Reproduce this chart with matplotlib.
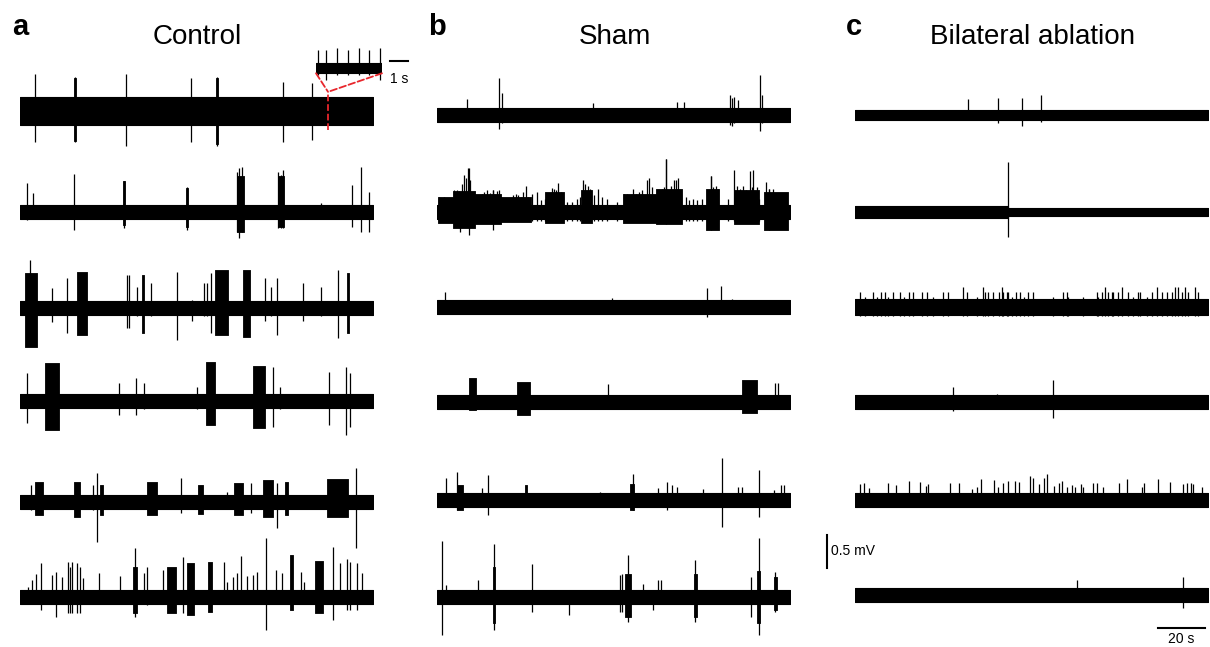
import numpy as np
import matplotlib.pyplot as plt
from matplotlib.patches import ConnectionPatch

plt.rcParams['font.family'] = ['Liberation Sans', 'DejaVu Sans']

W, H = 1210, 647
DURATION = 150.0   # s shown per trace
PX_PER_MV = 66.0

# ---- panel a: Control ----
# baseline noise: list of (start s, half width mV)
ctrl_noise = [[(0, 0.21)], [(0, 0.10)], [(0, 0.11)], [(0, 0.11)], [(0, 0.10)], [(0, 0.10)]]
# spikes: (time s, up mV, down mV); bursts: (t0, t1, up, down)
ctrl1_spikes = [(6.4, 0.56, 0.47), (23.4, 0.52, 0.47), (45.0, 0.56, 0.53), (72.7, 0.50, 0.47),
                (83.7, 0.52, 0.53), (111.8, 0.44, 0.47), (124.1, 0.42, 0.44)]
ctrl1_bursts = [(23.0, 23.8, 0.50, 0.45), (83.3, 84.1, 0.50, 0.50)]
ctrl2_spikes = [(3.0, 0.44, 0.12), (5.5, 0.29, 0.10), (23.0, 0.58, 0.27), (44.2, 0.47, 0.24),
                (71.0, 0.38, 0.27), (92.2, 0.60, 0.30), (93.2, 0.67, 0.39), (94.5, 0.68, 0.30),
                (109.7, 0.60, 0.24), (110.8, 0.56, 0.24), (111.8, 0.63, 0.24), (128.0, 0.14, 0.10),
                (141.1, 0.41, 0.23), (145.0, 0.68, 0.30), (148.3, 0.30, 0.30)]
ctrl2_bursts = [(43.9, 44.6, 0.47, 0.20), (70.6, 71.4, 0.36, 0.22), (92.0, 95.0, 0.55, 0.30),
                (109.5, 112.0, 0.55, 0.22)]
ctrl3_spikes = [(4.25, 0.73, 0.40), (13.6, 0.30, 0.21), (20.0, 0.45, 0.38), (45.5, 0.50, 0.30),
                (46.3, 0.50, 0.30), (49.7, 0.32, 0.12), (55.7, 0.38, 0.12), (66.7, 0.55, 0.48),
                (73.1, 0.12, 0.20), (78.2, 0.38, 0.12), (79.5, 0.38, 0.12), (81.2, 0.53, 0.38),
                (104.1, 0.45, 0.20), (106.7, 0.32, 0.12), (109.2, 0.45, 0.41), (120.3, 0.38, 0.20),
                (127.9, 0.32, 0.12), (135.1, 0.58, 0.45)]
ctrl3_bursts = [(2.1, 7.2, 0.53, 0.59), (24.2, 28.5, 0.55, 0.41), (51.9, 52.7, 0.50, 0.38),
                (82.9, 88.4, 0.58, 0.41), (94.8, 97.8, 0.58, 0.44), (139.0, 139.8, 0.53, 0.38)]
ctrl4_spikes = [(3.0, 0.42, 0.33), (42.1, 0.27, 0.21), (49.3, 0.35, 0.21), (52.7, 0.27, 0.12),
                (75.2, 0.21, 0.12), (107.5, 0.52, 0.39), (110.5, 0.21, 0.12), (131.3, 0.44, 0.36),
                (138.5, 0.52, 0.52), (140.2, 0.42, 0.39)]
ctrl4_bursts = [(10.6, 16.6, 0.58, 0.44), (79.0, 82.9, 0.59, 0.36), (99.0, 104.1, 0.53, 0.41)]
ctrl5_spikes = [(4.7, 0.26, 0.12), (31.0, 0.26, 0.12), (32.7, 0.44, 0.61), (68.4, 0.36, 0.17),
                (88.0, 0.15, 0.10), (98.2, 0.29, 0.17), (109.2, 0.29, 0.39), (142.8, 0.52, 0.70)]
ctrl5_bursts = [(6.4, 9.8, 0.30, 0.20), (23.0, 25.5, 0.30, 0.23), (34.0, 35.3, 0.26, 0.20),
                (54.0, 58.2, 0.30, 0.20), (75.6, 77.8, 0.26, 0.18), (91.0, 94.8, 0.29, 0.20),
                (103.3, 107.5, 0.33, 0.23), (112.6, 113.9, 0.30, 0.20), (130.5, 139.4, 0.35, 0.23)]
ctrl6_spikes = [(3.4, 0.15, 0.10), (5.1, 0.26, 0.10), (6.8, 0.35, 0.10), (8.9, 0.52, 0.20),
                (13.6, 0.33, 0.10), (15.3, 0.38, 0.30), (17.8, 0.30, 0.10), (20.4, 0.53, 0.24),
                (21.2, 0.45, 0.24), (22.1, 0.53, 0.24), (24.2, 0.52, 0.24), (25.5, 0.45, 0.24),
                (26.8, 0.29, 0.10), (33.6, 0.36, 0.10), (42.5, 0.32, 0.10), (48.9, 0.74, 0.30),
                (52.7, 0.36, 0.10), (54.0, 0.45, 0.12), (60.8, 0.41, 0.10), (69.3, 0.61, 0.24),
                (86.7, 0.53, 0.10), (88.0, 0.23, 0.10), (90.5, 0.30, 0.10), (92.2, 0.36, 0.10),
                (93.9, 0.62, 0.10), (96.5, 0.32, 0.10), (99.0, 0.33, 0.10), (100.7, 0.38, 0.10),
                (104.5, 0.89, 0.50), (108.8, 0.41, 0.10), (111.3, 0.36, 0.10), (119.4, 0.38, 0.10),
                (120.7, 0.23, 0.10), (133.0, 0.76, 0.35), (136.0, 0.52, 0.10), (139.0, 0.58, 0.20),
                (140.2, 0.53, 0.20), (143.2, 0.52, 0.20), (145.3, 0.36, 0.10)]
ctrl6_bursts = [(48.0, 49.7, 0.45, 0.24), (62.5, 66.3, 0.45, 0.24), (71.0, 74.0, 0.52, 0.27),
                (79.9, 81.6, 0.53, 0.23), (114.7, 116.0, 0.64, 0.20), (125.3, 128.8, 0.55, 0.24)]

# inset of control trace 1 (time s, up, down)
inset_spikes = [(0.11, 0.28, 0.10), (0.56, 0.27, 0.18), (1.17, 0.30, 0.10), (1.78, 0.27, 0.10),
                (2.39, 0.30, 0.10), (2.94, 0.27, 0.10), (3.56, 0.30, 0.18)]
inset_noise = 0.08
inset_len = 3.67
zoom_time = 130.9

# ---- panel b: Sham ----
sham_noise = [[(0, 0.11)], [(0, 0.11)], [(0, 0.11)], [(0, 0.10)], [(0, 0.10)], [(0, 0.10)]]
sham1_spikes = [(12.9, 0.24, 0.10), (26.4, 0.56, 0.21), (27.5, 0.33, 0.12), (66.4, 0.18, 0.10),
                (101.9, 0.20, 0.10), (105.0, 0.20, 0.10), (124.3, 0.30, 0.15), (125.2, 0.26, 0.17),
                (126.0, 0.28, 0.12), (128.0, 0.23, 0.10), (137.3, 0.61, 0.24), (138.0, 0.30, 0.12)]
sham1_bursts = []
sham2_times = [0.85, 3.1, 4.8, 5.8, 7.4, 8.4, 9.4, 10.5, 11.6, 12.2, 13.2, 14.0, 15.0, 16.4,
               17.6, 19.0, 20.1, 21.4, 22.5, 23.9, 25.4, 26.4, 27.2, 29.6, 30.6, 32.4, 33.4,
               34.6, 35.7, 36.7, 37.7, 38.8, 40.5, 42.4, 44.2, 45.9, 47.3, 48.7, 49.7, 50.6,
               51.6, 52.7, 53.7, 55.1, 57.2, 59.4, 60.8, 62.2, 62.9, 64.1, 65.0, 66.9, 68.6,
               70.0, 72.1, 76.6, 79.5, 80.6, 81.7, 83.2, 84.6, 86.0, 87.1, 88.1, 89.4, 90.2,
               91.3, 92.7, 94.5, 95.5, 96.5, 97.3, 98.3, 99.3, 100.7, 101.6, 102.6, 103.7,
               105.8, 107.2, 108.9, 110.6, 112.5, 115.3, 116.5, 117.4, 118.6, 119.5, 123.8,
               126.4, 127.4, 128.8, 129.9, 131.4, 132.8, 133.8, 134.4, 135.9, 137.0, 139.8,
               141.2, 142.7, 144.1, 145.5, 146.9, 148.3]
sham2_heights = [0.23, 0.23, 0.18, 0.19, 0.33, 0.34, 0.32, 0.43, 0.56, 0.51, 0.66, 0.48, 0.28, 0.20,
                 0.18, 0.28, 0.30, 0.33, 0.29, 0.33, 0.32, 0.33, 0.23, 0.20, 0.17, 0.25, 0.28,
                 0.25, 0.23, 0.30, 0.39, 0.23, 0.28, 0.30, 0.18, 0.20, 0.28, 0.37, 0.35, 0.33,
                 0.44, 0.30, 0.23, 0.15, 0.15, 0.20, 0.23, 0.49, 0.43, 0.39, 0.35, 0.25, 0.35,
                 0.23, 0.20, 0.15, 0.28, 0.27, 0.25, 0.35, 0.28, 0.30, 0.34, 0.23, 0.49, 0.51,
                 0.38, 0.23, 0.29, 0.35, 0.38, 0.81, 0.33, 0.40, 0.49, 0.48, 0.51, 0.28,
                 0.23, 0.18, 0.20, 0.18, 0.20, 0.28, 0.54, 0.38, 0.40, 0.35, 0.19,
                 0.63, 0.40, 0.35, 0.40, 0.33, 0.62, 0.38, 0.64, 0.38, 0.20, 0.45,
                 0.35, 0.35, 0.28, 0.18, 0.18, 0.23]
sham2_bursts = [(0.6, 7.0, 0.22, 0.17), (7.0, 16.0, 0.32, 0.24), (16.0, 27.0, 0.28, 0.18),
                (27.0, 40.0, 0.22, 0.15), (46.0, 54.0, 0.30, 0.16), (61.0, 66.0, 0.33, 0.16),
                (79.0, 93.0, 0.27, 0.16), (93.0, 104.0, 0.35, 0.18), (114.5, 120.0, 0.35, 0.27),
                (126.0, 137.0, 0.33, 0.18), (139.0, 149.0, 0.30, 0.27)]
sham3_spikes = [(3.4, 0.23, 0.10), (74.2, 0.13, 0.10), (114.6, 0.29, 0.15), (120.7, 0.32, 0.10),
                (125.2, 0.12, 0.10)]
sham3_bursts = []
sham4_spikes = [(72.5, 0.27, 0.10), (143.6, 0.29, 0.10), (145.0, 0.29, 0.10)]
sham4_bursts = [(13.6, 16.6, 0.36, 0.12), (33.9, 39.5, 0.30, 0.20), (129.5, 135.9, 0.33, 0.16)]
sham5_spikes = [(3.8, 0.33, 0.10), (8.4, 0.42, 0.15), (19.3, 0.18, 0.10), (21.8, 0.38, 0.23),
                (69.3, 0.12, 0.10), (83.4, 0.39, 0.15), (94.1, 0.18, 0.10), (97.9, 0.27, 0.15),
                (99.8, 0.23, 0.10), (101.9, 0.20, 0.10), (113.2, 0.17, 0.10), (121.0, 0.64, 0.41),
                (128.0, 0.20, 0.10), (129.5, 0.20, 0.10), (137.0, 0.45, 0.26), (143.0, 0.15, 0.10),
                (146.1, 0.23, 0.10), (147.6, 0.22, 0.10)]
sham5_bursts = [(8.4, 11.2, 0.23, 0.15), (37.4, 38.4, 0.23, 0.10), (81.8, 83.8, 0.24, 0.15)]
sham6_spikes = [(2.1, 0.85, 0.58), (3.8, 0.18, 0.10), (17.6, 0.26, 0.10), (24.2, 0.80, 0.50),
                (40.3, 0.50, 0.23), (56.2, 0.10, 0.27), (77.6, 0.33, 0.23), (78.8, 0.35, 0.23),
                (81.0, 0.64, 0.38), (87.5, 0.20, 0.10), (91.8, 0.10, 0.20), (94.1, 0.26, 0.10),
                (95.1, 0.26, 0.10), (109.7, 0.56, 0.38), (133.5, 0.30, 0.30), (136.7, 0.89, 0.58),
                (143.8, 0.38, 0.23)]
sham6_bursts = [(23.7, 24.8, 0.45, 0.40), (79.8, 82.4, 0.35, 0.30), (109.1, 110.3, 0.35, 0.30),
                (136.1, 137.3, 0.40, 0.40), (143.2, 144.4, 0.30, 0.20)]

# ---- panel c: Bilateral ablation ----
abl_noise = [[(0, 0.08)], [(0, 0.09), (65.2, 0.065)], [(0, 0.12)], [(0, 0.10)], [(0, 0.10)], [(0, 0.10)]]
abl1_spikes = [(48.0, 0.24, 0.08), (60.6, 0.26, 0.12), (71.1, 0.26, 0.17), (78.9, 0.30, 0.10)]
abl2_spikes = [(65.2, 0.76, 0.38)]
abl3_times = [2.1, 4.25, 7.5, 9.5, 11.0, 12.8, 14.2, 16.0, 19.1, 20.8, 23.1, 24.8, 28.3, 30.5,
              33.3, 37.5, 39.7, 45.8, 47.5, 51.7, 54.3, 55.3, 56.7, 58.8, 61.0, 62.4, 63.0,
              64.5, 65.2, 66.6, 68.4, 70.1, 71.8, 73.7, 75.8, 84.3, 88.5, 90.0, 90.7, 97.0,
              102.7, 103.4, 104.8, 106.2, 107.7, 109.1, 109.8, 111.9, 113.3, 116.2, 118.3,
              120.4, 121.1, 124.0, 126.1, 128.2, 130.3, 132.5, 134.6, 136.0, 137.4, 138.8,
              140.3, 141.7, 144.5, 145.9]
abl3_heights = [0.22, 0.15, 0.22, 0.15, 0.22, 0.22, 0.15, 0.22, 0.22, 0.15, 0.22, 0.22, 0.22, 0.22,
                0.15, 0.22, 0.22, 0.30, 0.22, 0.15, 0.30, 0.22, 0.22, 0.22, 0.22, 0.30, 0.22,
                0.22, 0.22, 0.15, 0.22, 0.22, 0.15, 0.22, 0.22, 0.15, 0.22, 0.22, 0.15, 0.15,
                0.22, 0.15, 0.22, 0.30, 0.22, 0.22, 0.22, 0.22, 0.30, 0.22, 0.15,
                0.22, 0.22, 0.15, 0.22, 0.30, 0.22, 0.22, 0.22, 0.30, 0.30, 0.22,
                0.30, 0.22, 0.30, 0.22]
abl4_spikes = [(41.8, 0.23, 0.14), (60.3, 0.12, 0.10), (84.3, 0.33, 0.24)]
abl5_times = [2.1, 3.8, 6.1, 13.9, 17.4, 23.1, 27.6, 30.2, 31.2, 40.4, 44.2, 49.6, 51.7, 53.4,
              59.2, 60.6, 62.8, 65.2, 68.0, 69.8, 74.4, 75.8, 78.3, 80.3, 81.7, 84.6, 86.8,
              87.8, 90.2, 92.1, 93.5, 95.9, 96.8, 101.0, 103.0, 105.3, 112.3, 115.7, 121.8,
              122.8, 128.9, 133.9, 139.3, 141.0, 142.6, 143.8, 147.3]
abl5_heights = [0.24, 0.26, 0.18, 0.25, 0.22, 0.29, 0.28, 0.21, 0.24, 0.26, 0.25, 0.16, 0.19, 0.32,
                0.30, 0.20, 0.26, 0.29, 0.29, 0.28, 0.37, 0.34, 0.24, 0.33, 0.40, 0.21, 0.25,
                0.29, 0.20, 0.22, 0.20, 0.24, 0.20, 0.25, 0.25, 0.19, 0.25, 0.32, 0.20,
                0.26, 0.32, 0.28, 0.24, 0.26, 0.26, 0.24, 0.20]
abl6_spikes = [(94.5, 0.23, 0.10), (139.3, 0.27, 0.20)]

titles = ['Control', 'Sham', 'Bilateral ablation']
letters = ['a', 'b', 'c']

# ---- layout (pixels) ----
col_left = [20, 437, 855]
col_width = 353
title_x = [197, 615, 1032]
letter_x = [12, 428, 846]
ax_top, ax_bottom = 45, 645
centers = [[111, 212, 308, 401, 502, 597],
           [115, 212, 307, 402, 500, 597],
           [115, 212, 307, 402, 500, 595]]


def px_axes(fig, x0, y0, w, h):
    return fig.add_axes([x0 / W, 1 - (y0 + h) / H, w / W, h / H])


def draw_trace(ax, off, noise, spikes, bursts):
    for i, (t0, half) in enumerate(noise):
        t1 = noise[i + 1][0] if i + 1 < len(noise) else DURATION
        ax.fill_between([t0, t1], off - half, off + half, color='k', lw=0.8)
    for t0, t1, up, dn in bursts:
        ax.fill_between([t0, t1], off - dn, off + up, color='k', lw=0.6)
    if spikes:
        t, up, dn = zip(*spikes)
        ax.vlines(t, off - np.array(dn), off + np.array(up), color='k', lw=0.9)


abl3_spikes = [(t, h, 0.13) for t, h in zip(abl3_times, abl3_heights)]
abl5_spikes = [(t, h, 0.11) for t, h in zip(abl5_times, abl5_heights)]
sham2_spikes = [(t, h, 0.13) for t, h in zip(sham2_times, sham2_heights)]
sham2_spikes += [(9.9, 0.30, 0.30), (13.5, 0.66, 0.35), (23.9, 0.33, 0.28), (116.5, 0.54, 0.27),
                 (141.2, 0.35, 0.27), (97.3, 0.81, 0.18)]

panels = [
    (ctrl_noise, [ctrl1_spikes, ctrl2_spikes, ctrl3_spikes, ctrl4_spikes, ctrl5_spikes, ctrl6_spikes],
     [ctrl1_bursts, ctrl2_bursts, ctrl3_bursts, ctrl4_bursts, ctrl5_bursts, ctrl6_bursts]),
    (sham_noise, [sham1_spikes, sham2_spikes, sham3_spikes, sham4_spikes, sham5_spikes, sham6_spikes],
     [sham1_bursts, sham2_bursts, sham3_bursts, sham4_bursts, sham5_bursts, sham6_bursts]),
    (abl_noise, [abl1_spikes, abl2_spikes, abl3_spikes, abl4_spikes, abl5_spikes, abl6_spikes],
     [[], [], [], [], [], []]),
]

fig = plt.figure(figsize=(W / 100, H / 100), dpi=100)
axes = []
for c, (noise, spk, brs) in enumerate(panels):
    ax = px_axes(fig, col_left[c], ax_top, col_width, ax_bottom - ax_top)
    ax.set_xlim(0, DURATION)
    ax.set_ylim(-(ax_bottom - ax_top) / PX_PER_MV, 0)
    ax.axis('off')
    for k in range(6):
        off = -(centers[c][k] - ax_top) / PX_PER_MV
        draw_trace(ax, off, noise[k], spk[k], brs[k])
    axes.append(ax)
    fig.text(title_x[c] / W, 1 - 37 / H, titles[c], ha='center', va='center', fontsize=20)
    fig.text(letter_x[c] / W, 1 - 35 / H, letters[c], ha='left', va='baseline',
             fontsize=21, fontweight='bold')

# scale bars in panel c
axc = axes[2]
bar_t = -11.9
bar_y0 = -(568 - ax_top) / PX_PER_MV
axc.plot([bar_t, bar_t], [bar_y0, bar_y0 + 0.5], color='k', lw=1.5, clip_on=False)
axc.text(bar_t + 1.5, bar_y0 + 0.25, '0.5 mV', ha='left', va='center', fontsize=10)
sb_y = -(628 - ax_top) / PX_PER_MV
axc.plot([128.8, 148.8], [sb_y, sb_y], color='k', lw=1.5, clip_on=False)
axc.text(138.8, sb_y - 0.06, '20 s', ha='center', va='top', fontsize=10)

# inset in panel a
axi = px_axes(fig, 316, 40, 66, 56)
axi.set_xlim(0, inset_len)
axi.set_ylim(-28 / PX_PER_MV, 28 / PX_PER_MV)
axi.axis('off')
draw_trace(axi, 0.0, [(0, inset_noise)], inset_spikes, [])
axi.set_xlim(0, inset_len)
axi.plot([4.1, 5.1], [0.106, 0.106], color='k', lw=1.5, clip_on=False)
axi.text(4.6, -0.16, '1 s', ha='center', va='center', fontsize=10)

axa = axes[0]
off1 = -(centers[0][0] - ax_top) / PX_PER_MV
red = '#e8262c'
axa.plot([zoom_time, zoom_time], [off1 - 0.29, off1 + 0.29], color=red, ls='--', lw=1.3, zorder=5)
for xa in (0, inset_len):
    con = ConnectionPatch(xyA=(xa, -inset_noise), coordsA=axi.transData,
                          xyB=(zoom_time, off1 + 0.29), coordsB=axa.transData,
                          color=red, ls='--', lw=1.3)
    fig.add_artist(con)

fig.savefig('out.png', dpi=100)
